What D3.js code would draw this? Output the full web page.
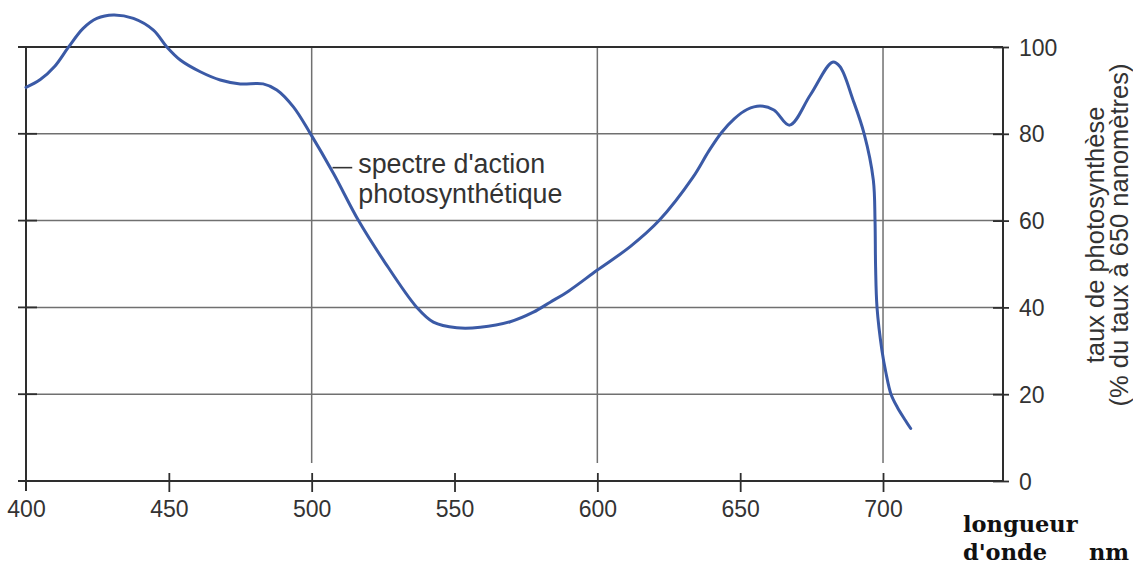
<!DOCTYPE html>
<html>
<head>
<meta charset="utf-8">
<script src="https://cdn.jsdelivr.net/npm/d3@7"></script>
<style>
  html, body { margin: 0; padding: 0; background: #fff; }
  svg { display: block; }
</style>
</head>
<body>
<svg id="chart" width="1133" height="567"></svg>
<script>
// ---- data ----
const wavelengths = [400, 405, 410, 414.8, 420, 424.8, 430.6, 437.6, 444.6, 449.3, 454, 461, 468, 475, 483, 487.8, 493.6, 499.5, 507.6, 516.4, 525.1, 536.8, 542.6, 550.8, 559, 569.5, 577.6, 583.5, 590, 600, 611.5, 621.6, 633.5, 639, 643.5, 648, 652.4, 657, 661.8, 667.3, 674.6, 682.3, 684.9, 689.5, 693.4, 696.6, 697.2, 697.4, 697.9, 699.6, 701, 702.8, 705, 707.5, 709.7];
const rates = [90.7, 92.5, 95.5, 99.9, 104.3, 106.6, 107.4, 106.6, 103.9, 100, 97, 94.3, 92.4, 91.5, 91.5, 90.1, 86.2, 80.1, 70.9, 60, 50.9, 40, 36.6, 35.3, 35.4, 36.7, 38.9, 41.2, 43.8, 48.6, 54, 60, 70, 76, 80.3, 83.5, 85.6, 86.4, 85.5, 82, 89, 96.5, 95.5, 87.8, 80, 69.4, 60, 49.4, 40, 30.2, 25, 20, 17, 14.3, 12.1];
const xTicks = [400, 450, 500, 550, 600, 650, 700];
const xGridValues = [500, 600, 700];
const yTicks = [0, 20, 40, 60, 80, 100];
const yGridValues = [20, 40, 60, 80];
const annotationLines = ["spectre d'action", "photosynthétique"];
const yTitleLines = ["taux de photosynthèse", "(% du taux à 650 nanomètres)"];
const xTitleLines = ["longueur", "d'onde"];
const xUnit = "nm";

// ---- scales ----
const svg = d3.select("#chart");
const x = d3.scaleLinear().domain([400, 742]).range([26, 1003]);
const y = d3.scaleLinear().domain([0, 100]).range([481, 47]);

const gridColor = "#707070";
const axisColor = "#2e2e2e";
const sansFont = "'Liberation Sans', Arial, sans-serif";

// horizontal gridlines
svg.append("g").selectAll("line").data(yGridValues).join("line")
  .attr("x1", x(400)).attr("x2", x(742))
  .attr("y1", d => y(d)).attr("y2", d => y(d))
  .attr("stroke", gridColor).attr("stroke-width", 1.5);

// vertical gridlines
svg.append("g").selectAll("line").data(xGridValues).join("line")
  .attr("x1", d => x(d)).attr("x2", d => x(d))
  .attr("y1", y(100)).attr("y2", y(0) - 18)
  .attr("stroke", gridColor).attr("stroke-width", 1.5);

// left ticks (crossing)
svg.append("g").selectAll("line").data(yTicks.filter(d => d < 100)).join("line")
  .attr("x1", x(400) - 8).attr("x2", x(400) + 11)
  .attr("y1", d => y(d)).attr("y2", d => y(d))
  .attr("stroke", axisColor).attr("stroke-width", 1.8);

// frame: top, left, bottom
svg.append("line").attr("x1", x(400) - 8).attr("x2", x(742)).attr("y1", y(100)).attr("y2", y(100))
  .attr("stroke", axisColor).attr("stroke-width", 2);
svg.append("line").attr("x1", x(400)).attr("x2", x(400)).attr("y1", y(100)).attr("y2", y(0) + 10)
  .attr("stroke", axisColor).attr("stroke-width", 2);
svg.append("line").attr("x1", x(400) - 8).attr("x2", x(742)).attr("y1", y(0)).attr("y2", y(0))
  .attr("stroke", axisColor).attr("stroke-width", 2);

// bottom axis via d3.axisBottom
const xAxis = svg.append("g").attr("transform", `translate(0,${y(0)})`)
  .call(d3.axisBottom(x).tickValues(xTicks).tickSize(10).tickFormat(d3.format("d")));
xAxis.select(".domain").remove();
xAxis.selectAll(".tick line").attr("y1", -8).attr("y2", 11)
  .attr("stroke", axisColor).attr("stroke-width", 1.8)
  .filter(d => d === 400).remove();
xAxis.selectAll(".tick text")
  .attr("y", 36).attr("dy", 0)
  .style("font-size", "23px").style("font-family", sansFont)
  .attr("fill", "#333");

// right axis via d3.axisRight
const yAxis = svg.append("g").attr("transform", `translate(${x(742)},0)`)
  .call(d3.axisRight(y).tickValues(yTicks).tickSize(6));
yAxis.select(".domain").attr("d", `M0,${y(100)}V${y(0)}`)
  .attr("stroke", axisColor).attr("stroke-width", 2);
yAxis.selectAll(".tick line").attr("x1", -10).attr("x2", 6)
  .attr("stroke", axisColor).attr("stroke-width", 1.8);
yAxis.selectAll(".tick text")
  .attr("x", 16).attr("dy", "0.35em")
  .style("font-size", "23px").style("font-family", sansFont)
  .attr("fill", "#333");

// the curve
const pts = wavelengths.map((w, i) => [w, rates[i]]);
const line = d3.line().x(d => x(d[0])).y(d => y(d[1])).curve(d3.curveCatmullRom.alpha(0.5));
svg.append("path").datum(pts).attr("d", line)
  .attr("fill", "none").attr("stroke", "#3b5aa6").attr("stroke-width", 3)
  .attr("stroke-linejoin", "round").attr("stroke-linecap", "round");

// annotation
svg.append("line").attr("x1", x(507.3)).attr("x2", x(514.2)).attr("y1", y(72.2)).attr("y2", y(72.2))
  .attr("stroke", "#333").attr("stroke-width", 1.6);
svg.append("g").selectAll("text").data(annotationLines).join("text")
  .attr("x", x(516.3)).attr("y", (d, i) => 173 + i * 30)
  .attr("font-family", sansFont).attr("font-size", 26.8)
  .attr("fill", "#333").text(d => d);

// right axis title (rotated)
svg.append("g").selectAll("text").data(yTitleLines).join("text")
  .attr("transform", (d, i) => `translate(${1104 + i * 24},235) rotate(-90)`)
  .attr("text-anchor", "middle")
  .attr("font-family", sansFont).attr("font-size", 25.5)
  .attr("fill", "#333").text(d => d);

// x title
svg.append("g").selectAll("text").data(xTitleLines).join("text")
  .attr("x", 963).attr("y", (d, i) => 532 + i * 28)
  .attr("font-family", "'DejaVu Serif', serif").attr("font-weight", "bold").attr("font-size", 22.5)
  .attr("fill", "#111").text(d => d);
svg.append("text").attr("x", 1089).attr("y", 560)
  .attr("font-family", "'DejaVu Serif', serif").attr("font-weight", "bold").attr("font-size", 22.5)
  .attr("fill", "#111").text(xUnit);
</script>
</body>
</html>
